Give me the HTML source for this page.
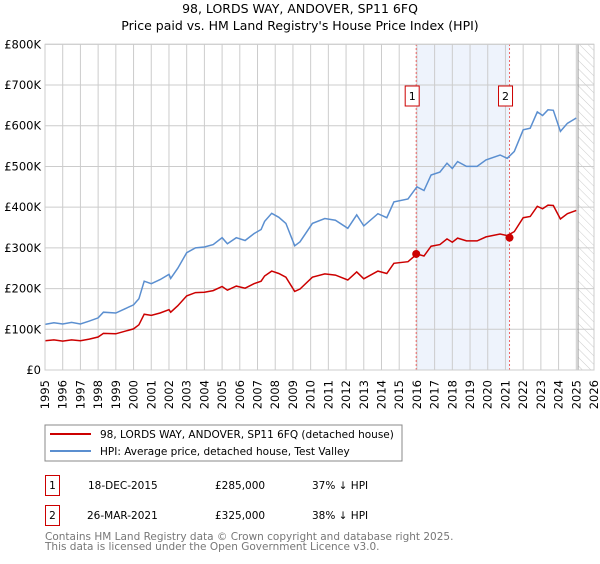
<!DOCTYPE html>
<html><head><meta charset="utf-8"><style>
body{margin:0;background:#fff;font-family:"DejaVu Sans","Liberation Sans",sans-serif;}
svg text{font-family:"DejaVu Sans","Liberation Sans",sans-serif;}
</style></head><body>
<svg id="c" width="600" height="560" xmlns="http://www.w3.org/2000/svg">
<defs><pattern id="hatch" width="6" height="6" patternUnits="userSpaceOnUse" patternTransform="rotate(-45)"><line x1="0" y1="0" x2="0" y2="6" stroke="#ccc" stroke-width="1"/></pattern></defs>
<text x="300" y="13" text-anchor="middle" font-size="12.5">98, LORDS WAY, ANDOVER, SP11 6FQ</text>
<text x="300" y="30" text-anchor="middle" font-size="12.5">Price paid vs. HM Land Registry's House Price Index (HPI)</text>
<g id="plot"></g>
<rect x="45" y="425" width="357" height="36" fill="none" stroke="#888"/>
<line x1="50" y1="434" x2="91" y2="434" stroke="#cc0000" stroke-width="2"/>
<text x="100" y="438" font-size="10.5">98, LORDS WAY, ANDOVER, SP11 6FQ (detached house)</text>
<line x1="50" y1="451" x2="91" y2="451" stroke="#5b8fd0" stroke-width="2"/>
<text x="100" y="455" font-size="10.5">HPI: Average price, detached house, Test Valley</text>
<g>
<rect x="45.5" y="475.5" width="14" height="20" fill="none" stroke="#cc0000"/>
<text x="52.5" y="489" text-anchor="middle" font-size="10.5">1</text>
<text x="88" y="489" font-size="10.5">18-DEC-2015</text>
<text x="215" y="489" font-size="10.5">£285,000</text>
<text x="312" y="489" font-size="10.5">37% ↓ HPI</text></g>
<g>
<rect x="45.5" y="505.5" width="14" height="20" fill="none" stroke="#cc0000"/>
<text x="52.5" y="519" text-anchor="middle" font-size="10.5">2</text>
<text x="87" y="519" font-size="10.5">26-MAR-2021</text>
<text x="215" y="519" font-size="10.5">£325,000</text>
<text x="312" y="519" font-size="10.5">38% ↓ HPI</text></g>
<text x="45" y="540" font-size="10.5" fill="#777">Contains HM Land Registry data © Crown copyright and database right 2025.</text>
<text x="45" y="550" font-size="10.5" fill="#777">This data is licensed under the Open Government Licence v3.0.</text>
</svg>
<script>
const hpiYears=[1995,1995.5,1996,1996.5,1997,1997.5,1998,1998.3,1999,1999.5,2000,2000.3,2000.6,2001,2001.5,2002,2002.1,2002.5,2003,2003.5,2004,2004.5,2005,2005.3,2005.8,2006.3,2006.8,2007.2,2007.4,2007.8,2008.2,2008.6,2009.1,2009.4,2010.1,2010.8,2011.4,2012.1,2012.6,2013,2013.8,2014.3,2014.7,2015.5,2016,2016.4,2016.8,2017.3,2017.7,2018,2018.3,2018.8,2019.4,2019.9,2020.7,2021.1,2021.5,2022,2022.4,2022.8,2023.1,2023.4,2023.7,2024.1,2024.5,2025];
const hpiValues=[112,116,113,117,113,120,128,142,140,150,160,175,218,212,222,235,225,250,288,300,302,308,325,310,325,318,335,345,365,385,375,360,305,315,360,372,368,348,381,354,384,374,413,420,450,441,479,486,508,495,512,500,500,516,528,520,537,590,594,634,625,639,638,586,606,619];
const priceValues=[72,74,71,74,72,76,81,90,89,95,101,111,137,134,140,148,142,158,182,190,191,195,205,196,206,201,212,218,231,243,237,228,193,199,228,236,233,221,241,224,243,237,262,266,285,280,304,308,322,314,324,317,317,327,334,330,340,374,377,402,396,405,404,371,384,392];
const saleYears=[2015.96,2021.23];
const saleValues=[285,325];
const saleLabels=["1","2"];
const yTicks=[0,100,200,300,400,500,600,700,800];
const yTickLabels=["£0","£100K","£200K","£300K","£400K","£500K","£600K","£700K","£800K"];
const xTicks=[1995,1996,1997,1998,1999,2000,2001,2002,2003,2004,2005,2006,2007,2008,2009,2010,2011,2012,2013,2014,2015,2016,2017,2018,2019,2020,2021,2022,2023,2024,2025,2026];
const X=y=>45+(y-1995)*(549/31);
const Y=v=>370-v*(325.7/800);
const NS="http://www.w3.org/2000/svg";
const g=document.getElementById('plot');
function el(t,a,p){const e=document.createElementNS(NS,t);for(const k in a)e.setAttribute(k,a[k]);(p||g).appendChild(e);return e;}
const shade=el('rect',{x:X(saleYears[0]),y:Y(800),width:X(saleYears[1])-X(saleYears[0]),height:Y(0)-Y(800),fill:'#eef3fc'});


const hat=el('rect',{x:X(2025.1),y:Y(800),width:X(2026)-X(2025.1),height:Y(0)-Y(800),fill:'url(#hatch)'});


yTicks.forEach((v,i)=>{
 const l=el('line',{x1:45,x2:X(2026),y1:Y(v),y2:Y(v),stroke:'#ccc'});
 
 
 const t=el('text',{x:41,y:Y(v)+4,'text-anchor':'end','font-size':'11.5'});t.textContent=yTickLabels[i];
 
 
});
xTicks.forEach(yr=>{
 const l=el('line',{x1:X(yr),x2:X(yr),y1:Y(0),y2:Y(800),stroke:'#ccc'});
 
 
 const t=el('text',{transform:`translate(${X(yr)+4},380) rotate(-90)`,'text-anchor':'end','font-size':'11.5'});t.textContent=yr;
 
 
});
const ed=el('line',{x1:X(2025.1),x2:X(2025.1),y1:Y(0),y2:Y(800),stroke:'#999'});


saleYears.forEach((yr,i)=>{
 const l=el('line',{x1:X(yr),x2:X(yr),y1:Y(0),y2:Y(800),stroke:'#e66','stroke-dasharray':'2,2'});
 
 
});
function path(vals,col,name){
 const d=hpiYears.map((yr,i)=>(i?'L':'M')+X(yr).toFixed(1)+','+Y(vals[i]).toFixed(1)).join('');
 const p=el('path',{d,fill:'none',stroke:col,'stroke-width':1.5});
 
 
}
path(hpiValues,'#5b8fd0','hpi-line');
path(priceValues,'#cc0000','price-line');
saleYears.forEach((yr,i)=>{
 const c=el('circle',{cx:X(yr),cy:Y(saleValues[i]),r:4,fill:'#cc0000'});
 
 
 const b=el('rect',{x:X(yr)-11,y:86,width:14,height:20,fill:'#fff',stroke:'#cc0000'});
 
 
 const t=el('text',{x:X(yr)-4,y:100,'text-anchor':'middle','font-size':'11'});t.textContent=saleLabels[i];
 
 
});
const ax=el('rect',{x:45,y:Y(800),width:X(2026)-45,height:Y(0)-Y(800),fill:'none',stroke:'#ccc'});


</script>
</body></html>
